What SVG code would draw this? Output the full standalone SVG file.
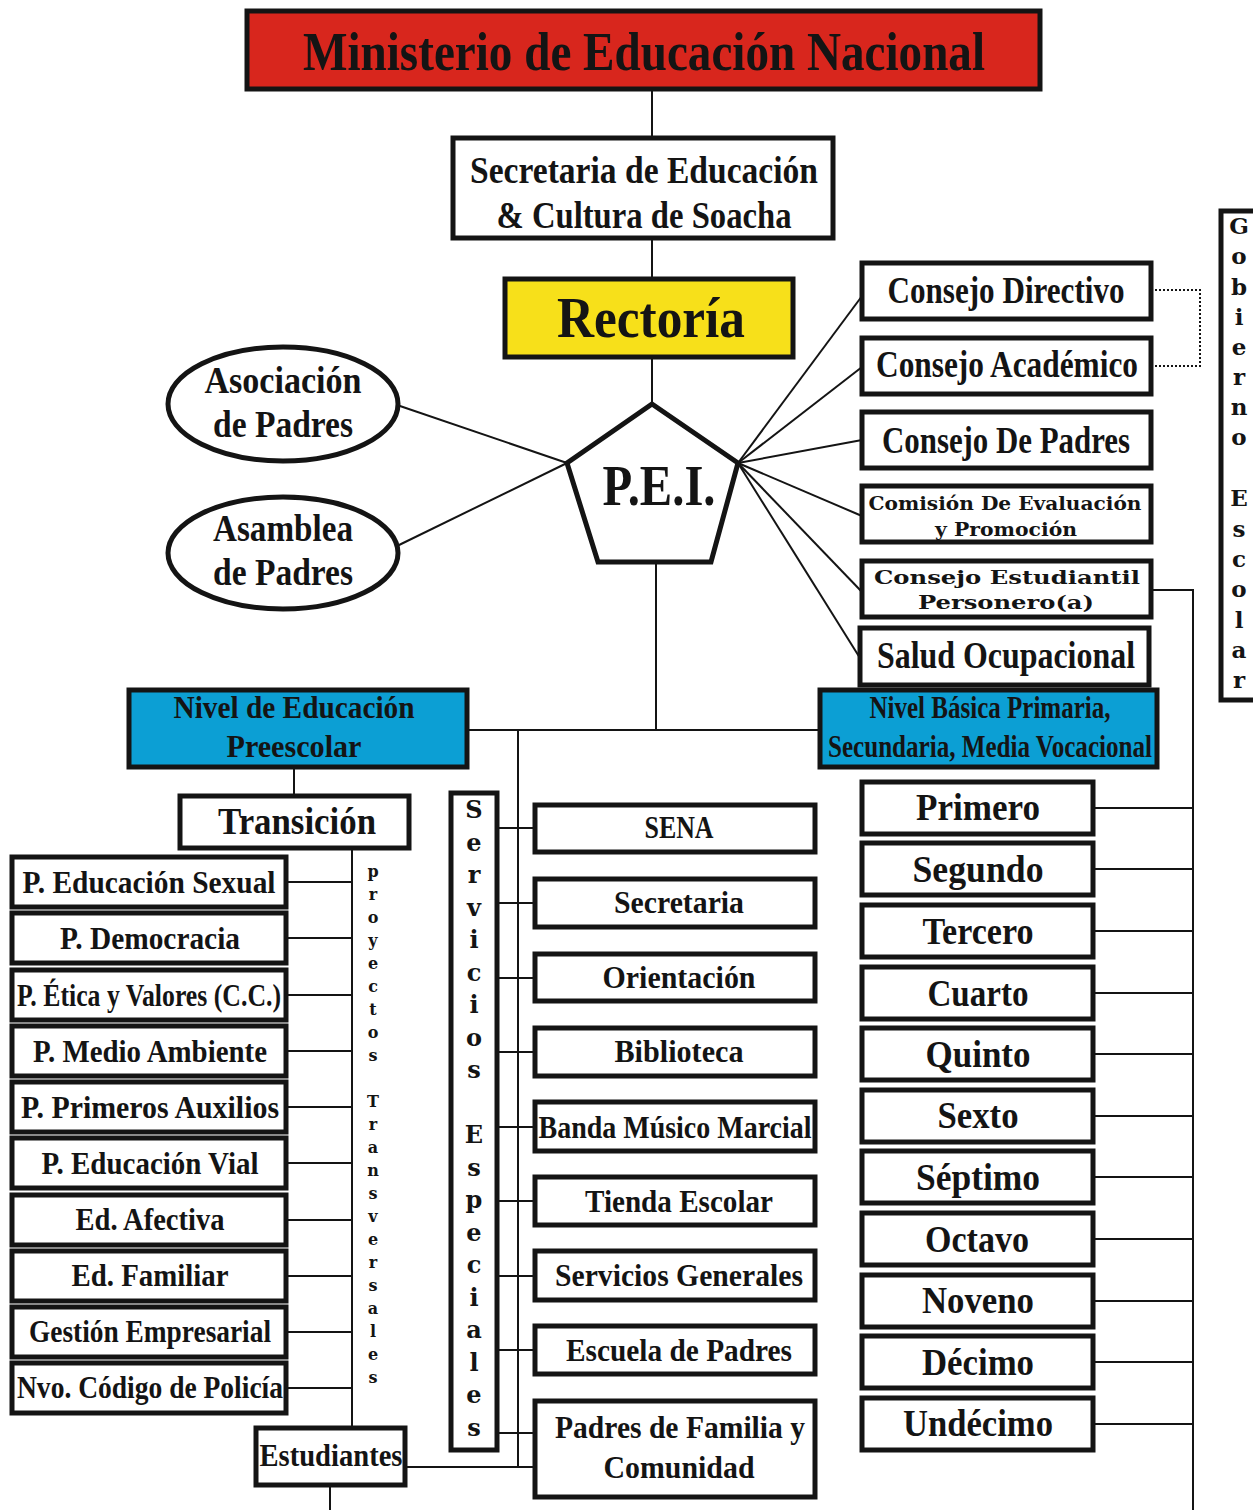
<svg xmlns="http://www.w3.org/2000/svg" width="1253" height="1510" viewBox="0 0 1253 1510">
<style>
.box{fill:#fff;stroke:#141414;stroke-width:5}
.ln{stroke:#141414;stroke-width:2;fill:none}
.t{font-family:"Liberation Serif",serif;font-weight:bold;fill:#141414;text-anchor:middle}
.w{font-family:"DejaVu Serif",serif;font-weight:bold;fill:#141414;text-anchor:middle}
</style>
<rect width="1253" height="1510" fill="#fff"/>
<g id="connectors">
<line class="ln" x1="652" y1="89" x2="652" y2="138"/>
<line class="ln" x1="652" y1="238" x2="652" y2="279"/>
<line class="ln" x1="652" y1="357" x2="652" y2="404"/>
<line class="ln" x1="397" y1="405" x2="567" y2="463"/>
<line class="ln" x1="397" y1="546" x2="567" y2="463"/>
<line class="ln" x1="738" y1="463" x2="862" y2="296"/>
<line class="ln" x1="738" y1="463" x2="862" y2="367"/>
<line class="ln" x1="738" y1="463" x2="862" y2="440"/>
<line class="ln" x1="738" y1="463" x2="862" y2="516"/>
<line class="ln" x1="738" y1="463" x2="862" y2="592"/>
<line class="ln" x1="738" y1="463" x2="860" y2="658"/>
<path class="ln" d="M1151 290 H1200 V366 H1151" stroke-dasharray="2 2"/>
<path class="ln" d="M1151 590 H1193 V1510"/>
<line class="ln" x1="656" y1="562" x2="656" y2="730"/>
<line class="ln" x1="467" y1="730" x2="820" y2="730"/>
<line class="ln" x1="518" y1="730" x2="518" y2="1467"/>
<line class="ln" x1="294" y1="767" x2="294" y2="796"/>
<line class="ln" x1="352" y1="848" x2="352" y2="1428"/>
<line class="ln" x1="330" y1="1485" x2="330" y2="1510"/>
<line class="ln" x1="405" y1="1467" x2="535" y2="1467"/>
<g id="proj-links">
<line class="ln" x1="286" y1="882" x2="352" y2="882"/>
<line class="ln" x1="286" y1="938" x2="352" y2="938"/>
<line class="ln" x1="286" y1="995" x2="352" y2="995"/>
<line class="ln" x1="286" y1="1051" x2="352" y2="1051"/>
<line class="ln" x1="286" y1="1107" x2="352" y2="1107"/>
<line class="ln" x1="286" y1="1163" x2="352" y2="1163"/>
<line class="ln" x1="286" y1="1220" x2="352" y2="1220"/>
<line class="ln" x1="286" y1="1276" x2="352" y2="1276"/>
<line class="ln" x1="286" y1="1332" x2="352" y2="1332"/>
<line class="ln" x1="286" y1="1388" x2="352" y2="1388"/>
</g>
<g id="serv-links">
<line class="ln" x1="497" y1="828" x2="535" y2="828"/>
<line class="ln" x1="497" y1="903" x2="535" y2="903"/>
<line class="ln" x1="497" y1="978" x2="535" y2="978"/>
<line class="ln" x1="497" y1="1052" x2="535" y2="1052"/>
<line class="ln" x1="497" y1="1127" x2="535" y2="1127"/>
<line class="ln" x1="497" y1="1201" x2="535" y2="1201"/>
<line class="ln" x1="497" y1="1276" x2="535" y2="1276"/>
<line class="ln" x1="497" y1="1350" x2="535" y2="1350"/>
<line class="ln" x1="497" y1="1433" x2="535" y2="1433"/>
</g>
<g id="grade-links">
<line class="ln" x1="1093" y1="808" x2="1193" y2="808"/>
<line class="ln" x1="1093" y1="869" x2="1193" y2="869"/>
<line class="ln" x1="1093" y1="931" x2="1193" y2="931"/>
<line class="ln" x1="1093" y1="993" x2="1193" y2="993"/>
<line class="ln" x1="1093" y1="1054" x2="1193" y2="1054"/>
<line class="ln" x1="1093" y1="1116" x2="1193" y2="1116"/>
<line class="ln" x1="1093" y1="1177" x2="1193" y2="1177"/>
<line class="ln" x1="1093" y1="1239" x2="1193" y2="1239"/>
<line class="ln" x1="1093" y1="1301" x2="1193" y2="1301"/>
<line class="ln" x1="1093" y1="1362" x2="1193" y2="1362"/>
<line class="ln" x1="1093" y1="1424" x2="1193" y2="1424"/>
</g>
</g>

<g id="ministerio"><rect class="box" x="247" y="11" width="793" height="78" style="fill:#d8261d"/>
<text class="t" x="644" y="70" font-size="54" textLength="682" lengthAdjust="spacingAndGlyphs">Ministerio de Educación Nacional</text></g>

<g id="secretaria"><rect class="box" x="453" y="138" width="380" height="100"/>
<text class="t" x="644" y="183" font-size="38" textLength="348" lengthAdjust="spacingAndGlyphs">Secretaria de Educación</text>
<text class="t" x="644" y="228" font-size="38" textLength="295" lengthAdjust="spacingAndGlyphs">&amp; Cultura de Soacha</text></g>

<g id="rectoria"><rect class="box" x="505" y="279" width="288" height="78" style="fill:#f7e01a"/>
<text class="t" x="651" y="337" font-size="58" textLength="188" lengthAdjust="spacingAndGlyphs">Rectoría</text></g>

<g id="pei"><polygon class="box" points="652,404 738,463 711,562 598,562 567,463"/>
<text class="t" x="659" y="505" font-size="58" textLength="113" lengthAdjust="spacingAndGlyphs">P.E.I.</text></g>

<g id="asociacion"><ellipse class="box" cx="283" cy="404" rx="115" ry="57"/>
<text class="t" x="283" y="393" font-size="38" textLength="157" lengthAdjust="spacingAndGlyphs">Asociación</text>
<text class="t" x="283" y="437" font-size="38" textLength="140" lengthAdjust="spacingAndGlyphs">de Padres</text></g>

<g id="asamblea"><ellipse class="box" cx="283" cy="553" rx="115" ry="56"/>
<text class="t" x="283" y="541" font-size="38" textLength="140" lengthAdjust="spacingAndGlyphs">Asamblea</text>
<text class="t" x="283" y="585" font-size="38" textLength="140" lengthAdjust="spacingAndGlyphs">de Padres</text></g>

<g id="consejo-directivo"><rect class="box" x="862" y="263" width="289" height="56"/>
<text class="t" x="1006" y="303" font-size="38" textLength="237" lengthAdjust="spacingAndGlyphs">Consejo Directivo</text></g>
<g id="consejo-academico"><rect class="box" x="862" y="338" width="289" height="56"/>
<text class="t" x="1007" y="377" font-size="38" textLength="262" lengthAdjust="spacingAndGlyphs">Consejo Académico</text></g>
<g id="consejo-padres"><rect class="box" x="862" y="412" width="289" height="56"/>
<text class="t" x="1006" y="453" font-size="38" textLength="248" lengthAdjust="spacingAndGlyphs">Consejo De Padres</text></g>
<g id="comision"><rect class="box" x="862" y="486" width="289" height="56"/>
<text class="w" x="1005" y="510" font-size="18" textLength="273" lengthAdjust="spacingAndGlyphs">Comisión De Evaluación</text>
<text class="w" x="1006" y="536" font-size="18" textLength="142" lengthAdjust="spacingAndGlyphs">y Promoción</text></g>
<g id="consejo-estudiantil"><rect class="box" x="862" y="561" width="289" height="56"/>
<text class="w" x="1007" y="584" font-size="18" textLength="266" lengthAdjust="spacingAndGlyphs">Consejo Estudiantil</text>
<text class="w" x="1006" y="609" font-size="18" textLength="176" lengthAdjust="spacingAndGlyphs">Personero(a)</text></g>
<g id="salud"><rect class="box" x="860" y="628" width="289" height="57"/>
<text class="t" x="1006" y="668" font-size="38" textLength="258" lengthAdjust="spacingAndGlyphs">Salud Ocupacional</text></g>

<g id="gobierno-escolar"><rect class="box" x="1221" y="211" width="40" height="489"/>
<text class="w" font-size="23">
<tspan x="1239" y="234">G</tspan><tspan x="1239" y="264">o</tspan><tspan x="1239" y="295">b</tspan><tspan x="1239" y="325">i</tspan><tspan x="1239" y="355">e</tspan><tspan x="1239" y="385">r</tspan><tspan x="1239" y="415">n</tspan><tspan x="1239" y="445">o</tspan><tspan x="1239" y="506">E</tspan><tspan x="1239" y="537">s</tspan><tspan x="1239" y="567">c</tspan><tspan x="1239" y="597">o</tspan><tspan x="1239" y="628">l</tspan><tspan x="1239" y="658">a</tspan><tspan x="1239" y="688">r</tspan>
</text></g>

<g id="preescolar"><rect class="box" x="129" y="690" width="338" height="77" style="fill:#0c9fd4"/>
<text class="t" x="294" y="718" font-size="32" textLength="241" lengthAdjust="spacingAndGlyphs">Nivel de Educación</text>
<text class="t" x="294" y="757" font-size="32" textLength="135" lengthAdjust="spacingAndGlyphs">Preescolar</text></g>

<g id="basica"><rect class="box" x="820" y="690" width="337" height="77" style="fill:#0c9fd4"/>
<text class="t" x="990" y="718" font-size="32" textLength="241" lengthAdjust="spacingAndGlyphs">Nivel Básica Primaria,</text>
<text class="t" x="990" y="757" font-size="32" textLength="324" lengthAdjust="spacingAndGlyphs">Secundaria, Media Vocacional</text></g>

<g id="transicion"><rect class="box" x="180" y="796" width="229" height="52"/>
<text class="t" x="297" y="834" font-size="38" textLength="158" lengthAdjust="spacingAndGlyphs">Transición</text></g>

<g id="proyectos-label"><text class="w" font-size="16">
<tspan x="373" y="877">p</tspan><tspan x="373" y="900">r</tspan><tspan x="373" y="923">o</tspan><tspan x="373" y="946">y</tspan><tspan x="373" y="969">e</tspan><tspan x="373" y="992">c</tspan><tspan x="373" y="1015">t</tspan><tspan x="373" y="1038">o</tspan><tspan x="373" y="1061">s</tspan><tspan x="373" y="1107">T</tspan><tspan x="373" y="1130">r</tspan><tspan x="373" y="1153">a</tspan><tspan x="373" y="1176">n</tspan><tspan x="373" y="1199">s</tspan><tspan x="373" y="1222">v</tspan><tspan x="373" y="1245">e</tspan><tspan x="373" y="1268">r</tspan><tspan x="373" y="1291">s</tspan><tspan x="373" y="1314">a</tspan><tspan x="373" y="1337">l</tspan><tspan x="373" y="1360">e</tspan><tspan x="373" y="1383">s</tspan>
</text></g>

<g id="p-sexual"><rect class="box" x="12" y="857" width="274" height="50"/><text class="t" x="149" y="893" font-size="32" textLength="253" lengthAdjust="spacingAndGlyphs">P. Educación Sexual</text></g>
<g id="p-democracia"><rect class="box" x="12" y="913" width="274" height="50"/><text class="t" x="150" y="949" font-size="32" textLength="180" lengthAdjust="spacingAndGlyphs">P. Democracia</text></g>
<g id="p-etica"><rect class="box" x="12" y="970" width="274" height="50"/><text class="t" x="149" y="1006" font-size="32" textLength="264" lengthAdjust="spacingAndGlyphs">P. Ética y Valores (C.C.)</text></g>
<g id="p-medio"><rect class="box" x="12" y="1026" width="274" height="50"/><text class="t" x="150" y="1062" font-size="32" textLength="234" lengthAdjust="spacingAndGlyphs">P. Medio Ambiente</text></g>
<g id="p-auxilios"><rect class="box" x="12" y="1082" width="274" height="50"/><text class="t" x="150" y="1118" font-size="32" textLength="258" lengthAdjust="spacingAndGlyphs">P. Primeros Auxilios</text></g>
<g id="p-vial"><rect class="box" x="12" y="1138" width="274" height="50"/><text class="t" x="150" y="1174" font-size="32" textLength="217" lengthAdjust="spacingAndGlyphs">P. Educación Vial</text></g>
<g id="ed-afectiva"><rect class="box" x="12" y="1195" width="274" height="50"/><text class="t" x="150" y="1230" font-size="32" textLength="149" lengthAdjust="spacingAndGlyphs">Ed. Afectiva</text></g>
<g id="ed-familiar"><rect class="box" x="12" y="1251" width="274" height="50"/><text class="t" x="150" y="1286" font-size="32" textLength="157" lengthAdjust="spacingAndGlyphs">Ed. Familiar</text></g>
<g id="gestion"><rect class="box" x="12" y="1307" width="274" height="50"/><text class="t" x="150" y="1342" font-size="32" textLength="242" lengthAdjust="spacingAndGlyphs">Gestión Empresarial</text></g>
<g id="codigo"><rect class="box" x="12" y="1363" width="274" height="50"/><text class="t" x="150" y="1398" font-size="32" textLength="266" lengthAdjust="spacingAndGlyphs">Nvo. Código de Policía</text></g>

<g id="estudiantes"><rect class="box" x="256" y="1428" width="149" height="57"/><text class="t" x="331" y="1466" font-size="32" textLength="143" lengthAdjust="spacingAndGlyphs">Estudiantes</text></g>

<g id="servicios-label"><rect class="box" x="451" y="793" width="46" height="657"/>
<text class="w" font-size="24">
<tspan x="474" y="818">S</tspan><tspan x="474" y="851">e</tspan><tspan x="474" y="883">r</tspan><tspan x="474" y="916">v</tspan><tspan x="474" y="948">i</tspan><tspan x="474" y="981">c</tspan><tspan x="474" y="1013">i</tspan><tspan x="474" y="1046">o</tspan><tspan x="474" y="1078">s</tspan><tspan x="474" y="1143">E</tspan><tspan x="474" y="1176">s</tspan><tspan x="474" y="1208">p</tspan><tspan x="474" y="1241">e</tspan><tspan x="474" y="1273">c</tspan><tspan x="474" y="1306">i</tspan><tspan x="474" y="1338">a</tspan><tspan x="474" y="1371">l</tspan><tspan x="474" y="1403">e</tspan><tspan x="474" y="1436">s</tspan>
</text></g>

<g id="sena"><rect class="box" x="535" y="805" width="280" height="47"/><text class="t" x="679" y="838" font-size="32" textLength="69" lengthAdjust="spacingAndGlyphs">SENA</text></g>
<g id="secretaria-serv"><rect class="box" x="535" y="879" width="280" height="48"/><text class="t" x="679" y="913" font-size="32" textLength="130" lengthAdjust="spacingAndGlyphs">Secretaria</text></g>
<g id="orientacion"><rect class="box" x="535" y="954" width="280" height="47"/><text class="t" x="679" y="988" font-size="32" textLength="153" lengthAdjust="spacingAndGlyphs">Orientación</text></g>
<g id="biblioteca"><rect class="box" x="535" y="1028" width="280" height="48"/><text class="t" x="679" y="1062" font-size="32" textLength="129" lengthAdjust="spacingAndGlyphs">Biblioteca</text></g>
<g id="banda"><rect class="box" x="535" y="1102" width="280" height="49"/><text class="t" x="675" y="1138" font-size="32" textLength="273" lengthAdjust="spacingAndGlyphs">Banda Músico Marcial</text></g>
<g id="tienda"><rect class="box" x="535" y="1177" width="280" height="48"/><text class="t" x="679" y="1212" font-size="32" textLength="188" lengthAdjust="spacingAndGlyphs">Tienda Escolar</text></g>
<g id="servicios-generales"><rect class="box" x="535" y="1251" width="280" height="49"/><text class="t" x="679" y="1286" font-size="32" textLength="248" lengthAdjust="spacingAndGlyphs">Servicios Generales</text></g>
<g id="escuela"><rect class="box" x="535" y="1326" width="280" height="48"/><text class="t" x="679" y="1361" font-size="32" textLength="226" lengthAdjust="spacingAndGlyphs">Escuela de Padres</text></g>
<g id="padres-familia"><rect class="box" x="535" y="1401" width="280" height="96"/>
<text class="t" x="680" y="1438" font-size="32" textLength="250" lengthAdjust="spacingAndGlyphs">Padres de Familia y</text>
<text class="t" x="679" y="1478" font-size="32" textLength="151" lengthAdjust="spacingAndGlyphs">Comunidad</text></g>

<g id="primero"><rect class="box" x="862" y="782" width="231" height="52"/><text class="t" x="978" y="820" font-size="38" textLength="124" lengthAdjust="spacingAndGlyphs">Primero</text></g>
<g id="segundo"><rect class="box" x="862" y="843" width="231" height="52"/><text class="t" x="978" y="882" font-size="38" textLength="131" lengthAdjust="spacingAndGlyphs">Segundo</text></g>
<g id="tercero"><rect class="box" x="862" y="905" width="231" height="52"/><text class="t" x="978" y="944" font-size="38" textLength="111" lengthAdjust="spacingAndGlyphs">Tercero</text></g>
<g id="cuarto"><rect class="box" x="862" y="967" width="231" height="52"/><text class="t" x="978" y="1006" font-size="38" textLength="101" lengthAdjust="spacingAndGlyphs">Cuarto</text></g>
<g id="quinto"><rect class="box" x="862" y="1028" width="231" height="52"/><text class="t" x="978" y="1067" font-size="38" textLength="105" lengthAdjust="spacingAndGlyphs">Quinto</text></g>
<g id="sexto"><rect class="box" x="862" y="1090" width="231" height="52"/><text class="t" x="978" y="1128" font-size="38" textLength="81" lengthAdjust="spacingAndGlyphs">Sexto</text></g>
<g id="septimo"><rect class="box" x="862" y="1151" width="231" height="52"/><text class="t" x="978" y="1190" font-size="38" textLength="124" lengthAdjust="spacingAndGlyphs">Séptimo</text></g>
<g id="octavo"><rect class="box" x="862" y="1213" width="231" height="52"/><text class="t" x="977" y="1252" font-size="38" textLength="104" lengthAdjust="spacingAndGlyphs">Octavo</text></g>
<g id="noveno"><rect class="box" x="862" y="1275" width="231" height="52"/><text class="t" x="978" y="1313" font-size="38" textLength="112" lengthAdjust="spacingAndGlyphs">Noveno</text></g>
<g id="decimo"><rect class="box" x="862" y="1336" width="231" height="52"/><text class="t" x="978" y="1375" font-size="38" textLength="112" lengthAdjust="spacingAndGlyphs">Décimo</text></g>
<g id="undecimo"><rect class="box" x="862" y="1398" width="231" height="52"/><text class="t" x="978" y="1436" font-size="38" textLength="150" lengthAdjust="spacingAndGlyphs">Undécimo</text></g>
</svg>
